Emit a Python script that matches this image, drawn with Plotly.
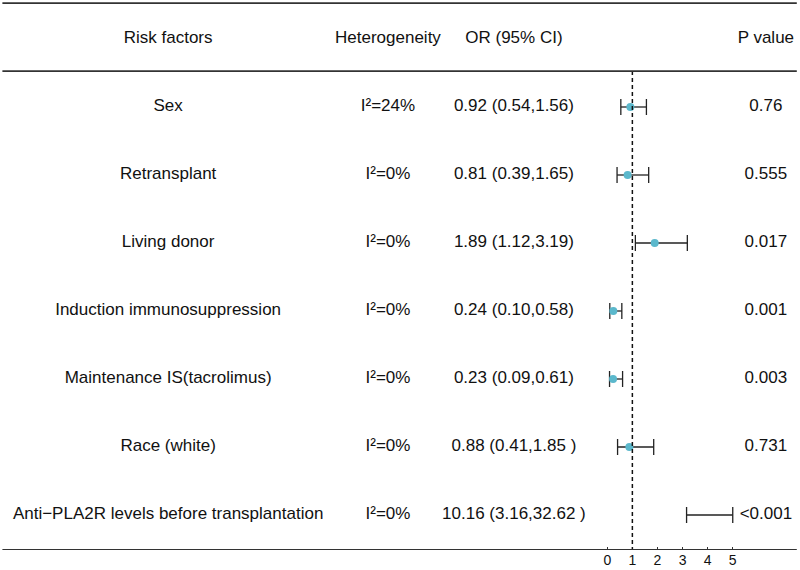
import plotly.graph_objects as go

factors = ["Sex", "Retransplant", "Living donor", "Induction immunosuppression",
           "Maintenance IS(tacrolimus)", "Race (white)",
           "Anti\u2212PLA2R levels before transplantation"]
heterogeneity = ["I\u00b2=24%", "I\u00b2=0%", "I\u00b2=0%", "I\u00b2=0%", "I\u00b2=0%", "I\u00b2=0%", "I\u00b2=0%"]
or_text = ["0.92 (0.54,1.56)", "0.81 (0.39,1.65)", "1.89 (1.12,3.19)", "0.24 (0.10,0.58)",
           "0.23 (0.09,0.61)", "0.88 (0.41,1.85 )", "10.16 (3.16,32.62 )"]
p_values = ["0.76", "0.555", "0.017", "0.001", "0.003", "0.731", "<0.001"]
or_est = [0.92, 0.81, 1.89, 0.24, 0.23, 0.88, 10.16]
ci_lo = [0.54, 0.39, 1.12, 0.10, 0.09, 0.41, 3.16]
ci_hi = [1.56, 1.65, 3.19, 0.58, 0.61, 1.85, 32.62]
headers = ["Risk factors", "Heterogeneity", "OR (95% CI)", "P value"]
x_ticks = [0, 1, 2, 3, 4, 5]

XMAX = 5
rows = list(range(len(factors)))
FONT = dict(family="Liberation Sans, Arial, sans-serif", size=17, color="#111")

# column centers in x-data units
col_x = [-17.50, -8.74, -3.72, 6.32]

fig = go.Figure()

# text columns
for cx, col in zip(col_x, [factors, heterogeneity, or_text, p_values]):
    fig.add_trace(go.Scatter(x=[cx] * len(col), y=rows, mode="text", text=col,
                             textposition="middle center", textfont=FONT,
                             cliponaxis=False, showlegend=False, hoverinfo="skip"))
# headers
fig.add_trace(go.Scatter(x=col_x, y=[-1] * 4, mode="text", text=headers,
                         textposition="middle center", textfont=FONT,
                         cliponaxis=False, showlegend=False, hoverinfo="skip"))

# CI lines with caps
cap = 0.118
lx, ly = [], []
for r, lo, hi in zip(rows, ci_lo, ci_hi):
    h = min(hi, XMAX)
    lx += [lo, h, None, lo, lo, None, h, h, None]
    ly += [r, r, None, r - cap, r + cap, None, r - cap, r + cap, None]
fig.add_trace(go.Scatter(x=lx, y=ly, mode="lines", line=dict(color="#222", width=1.3),
                         showlegend=False, hoverinfo="skip"))

# point estimates (only those within the axis)
px_ = [v for v in or_est if v <= XMAX]
py_ = [r for r, v in zip(rows, or_est) if v <= XMAX]
fig.add_trace(go.Scatter(x=px_, y=py_, mode="markers",
                         marker=dict(color="#5BB8CC", size=8, line=dict(width=0)),
                         showlegend=False))

# reference line and rules
Y_TOP, Y_HEAD, Y_BOT = -1.529, -0.529, 6.5147
fig.add_shape(type="line", x0=1, x1=1, y0=Y_HEAD, y1=Y_BOT, xref="x", yref="y",
              line=dict(color="#111", width=1.5, dash="4px,3px"))
for yy in [Y_TOP, Y_HEAD, Y_BOT]:
    fig.add_shape(type="line", x0=0.003, x1=0.996, y0=yy, y1=yy, xref="paper", yref="y",
                  line=dict(color="#333", width=1.8))

fig.update_xaxes(range=[-24.2, 7.68], tickvals=x_ticks, ticktext=[str(t) for t in x_ticks],
                 showgrid=False, zeroline=False, showline=False,
                 ticks="inside", ticklen=3, tickcolor="#333", tickwidth=1,
                 tickfont=dict(family="Liberation Sans, Arial, sans-serif", size=14, color="#111"))
fig.update_yaxes(range=[6.5147, -1.5735], showgrid=False, zeroline=False,
                 showticklabels=False, showline=False)

fig.update_layout(width=800, height=570, margin=dict(l=0, r=0, t=0, b=20),
                  plot_bgcolor="white", paper_bgcolor="white")

fig.write_html("out.html", config={"displayModeBar": False},
               post_script="document.body.style.margin='0';document.body.style.overflow='hidden';")
